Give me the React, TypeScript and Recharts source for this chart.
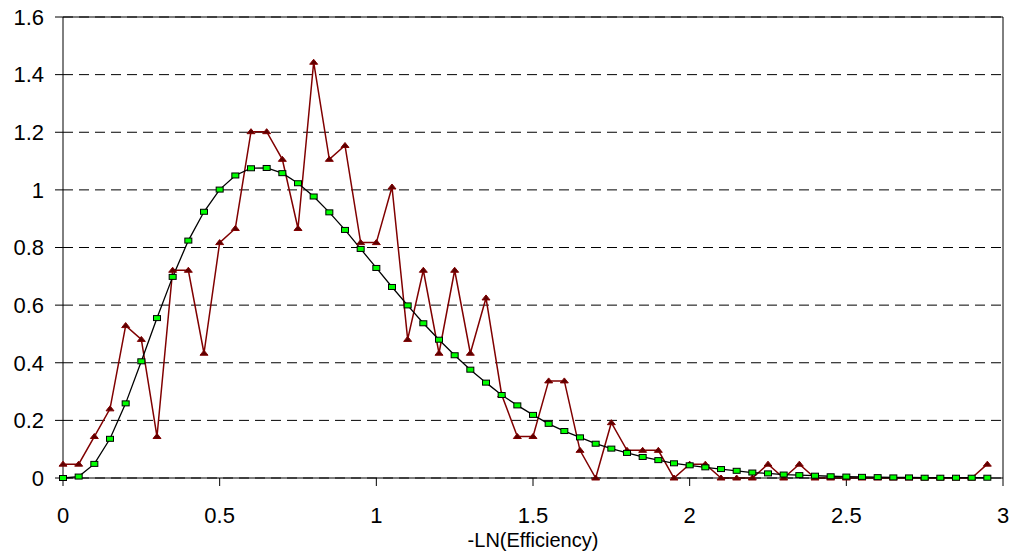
import React from 'react';
import { LineChart, Line, XAxis, YAxis, CartesianGrid, ReferenceLine } from 'recharts';

const xValues = [
  0, 0.05, 0.1, 0.15, 0.2, 0.25, 0.3, 0.35, 0.4, 0.45,
  0.5, 0.55, 0.6, 0.65, 0.7, 0.75, 0.8, 0.85, 0.9, 0.95,
  1.0, 1.05, 1.1, 1.15, 1.2, 1.25, 1.3, 1.35, 1.4, 1.45,
  1.5, 1.55, 1.6, 1.65, 1.7, 1.75, 1.8, 1.85, 1.9, 1.95,
  2.0, 2.05, 2.1, 2.15, 2.2, 2.25, 2.3, 2.35, 2.4, 2.45,
  2.5, 2.55, 2.6, 2.65, 2.7, 2.75, 2.8, 2.85, 2.9, 2.95,
];

const fitted = [
  0.0, 0.005, 0.049, 0.136, 0.259, 0.405, 0.555, 0.698, 0.824, 0.924,
  1.001, 1.05, 1.075, 1.076, 1.058, 1.023, 0.977, 0.922, 0.861, 0.795,
  0.729, 0.663, 0.599, 0.537, 0.48, 0.426, 0.376, 0.331, 0.288, 0.252,
  0.219, 0.188, 0.163, 0.141, 0.119, 0.102, 0.087, 0.073, 0.062, 0.051,
  0.044, 0.037, 0.031, 0.025, 0.019, 0.016, 0.012, 0.01, 0.008, 0.006,
  0.005, 0.004, 0.003, 0.002, 0.002, 0.001, 0.001, 0.001, 0.001, 0.001,
];

const observed = [
  0.048, 0.048, 0.144, 0.24, 0.529, 0.481, 0.144, 0.721, 0.721, 0.433,
  0.817, 0.866, 1.202, 1.202, 1.106, 0.866, 1.443, 1.106, 1.154, 0.817,
  0.817, 1.01, 0.481, 0.721, 0.433, 0.721, 0.433, 0.625, 0.289, 0.144,
  0.144, 0.337, 0.337, 0.096, 0.0, 0.192, 0.096, 0.096, 0.096, 0.0,
  0.048, 0.048, 0.0, 0.0, 0.0, 0.048, 0.0, 0.048, 0.0, 0.0,
  0.0, 0.0, 0.0, 0.0, 0.0, 0.0, 0.0, 0.0, 0.0, 0.048,
];

const xTicks = [0, 0.5, 1, 1.5, 2, 2.5, 3];
const yTicks = [0, 0.2, 0.4, 0.6, 0.8, 1, 1.2, 1.4, 1.6];
const xAxisTitle = '-LN(Efficiency)';

const data = xValues.map((x, i) => ({ x, fit: fitted[i], obs: observed[i] }));

const FONT = "'Liberation Sans', Arial, sans-serif";

const SquareDot = (props: any) => {
  const { cx, cy, index } = props;
  if (cx == null || cy == null) return <g key={`s${index}`} />;
  return (
    <rect
      key={`s${index}`}
      x={cx - 3.5}
      y={cy - 2.5}
      width={7}
      height={5}
      fill="#00FF00"
      stroke="#000"
      strokeWidth={1}
    />
  );
};

const TriangleDot = (props: any) => {
  const { cx, cy, index } = props;
  if (cx == null || cy == null) return <g key={`t${index}`} />;
  const pts = `${cx},${cy - 3} ${cx + 4},${cy + 2} ${cx - 4},${cy + 2}`;
  return <polygon key={`t${index}`} points={pts} fill="#5C0000" stroke="#800000" strokeWidth={1} />;
};

export default function App() {
  return (
    <div style={{ position: 'absolute', left: 0, top: 0, background: '#fff' }}>
      <LineChart
        width={1010}
        height={554}
        data={data}
        margin={{ top: 17, right: 7, left: 0, bottom: 0 }}
        style={{ fontFamily: FONT }}
      >
        <CartesianGrid vertical={false} stroke="#000" strokeDasharray="10 6" />
        <XAxis
          dataKey="x"
          type="number"
          domain={[0, 3]}
          ticks={xTicks}
          height={76}
          tickSize={8}
          tickMargin={21}
          axisLine={{ stroke: '#000' }}
          tickLine={{ stroke: '#000' }}
          tick={{ fill: '#000', fontSize: 22, fontFamily: FONT }}
          label={{ value: xAxisTitle, position: 'insideBottom', offset: 7, fill: '#000', fontSize: 20, fontFamily: FONT }}
        />
        <YAxis
          type="number"
          domain={[0, 1.6]}
          ticks={yTicks}
          width={63}
          tickSize={8}
          tickMargin={11}
          axisLine={{ stroke: '#000' }}
          tickLine={{ stroke: '#000' }}
          tick={{ fill: '#000', fontSize: 22, fontFamily: FONT }}
        />
        <ReferenceLine y={1.6} stroke="#000" />
        <ReferenceLine x={3} stroke="#000" />
        <Line
          type="linear"
          dataKey="obs"
          stroke="#800000"
          strokeWidth={1.5}
          dot={TriangleDot}
          activeDot={false}
          isAnimationActive={false}
        />
        <Line
          type="linear"
          dataKey="fit"
          stroke="#000"
          strokeWidth={1.3}
          dot={SquareDot}
          activeDot={false}
          isAnimationActive={false}
        />
      </LineChart>
    </div>
  );
}
